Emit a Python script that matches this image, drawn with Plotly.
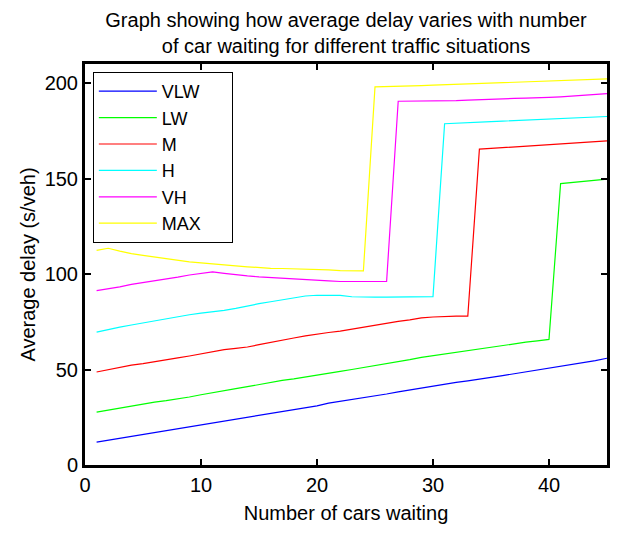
import plotly.graph_objects as go

cars = list(range(1, 46))

vlw = [12.0, 13.0, 14.0, 15.0, 16.0, 16.8, 17.8, 18.8, 19.8, 20.8, 21.7, 22.8, 24.0, 25.1, 26.1,
       26.9, 27.8, 28.8, 29.8, 31.0, 32.4, 33.3, 34.2, 35.2, 36.2, 37.2, 38.3, 39.3, 40.4, 41.5,
       42.5, 43.3, 44.1, 44.9, 45.8, 46.8, 47.8, 48.8, 49.8, 50.8, 51.7, 52.6, 53.5, 54.7, 55.9]
lw = [27.7, 28.8, 29.8, 31.0, 32.0, 32.9, 33.7, 34.5, 35.6, 36.8, 38.0, 39.0, 40.0, 41.0, 42.2,
      43.4, 44.3, 45.1, 46.0, 47.0, 48.0, 49.0, 50.0, 51.0, 52.0, 53.0, 54.0, 55.2, 56.4, 57.3,
      58.2, 59.0, 59.8, 60.8, 61.7, 62.6, 63.5, 64.3, 65.0, 65.8, 147.4, 148.0, 148.6, 149.2, 149.7]
m = [48.7, 50.0, 51.3, 52.3, 53.1, 54.0, 55.0, 56.1, 57.1, 58.3, 59.5, 60.4, 61.1, 61.8, 63.0,
     64.3, 65.5, 66.5, 67.6, 68.6, 69.4, 70.1, 71.2, 72.3, 73.3, 74.3, 75.2, 76.0, 77.0, 77.5,
     77.8, 78.0, 78.0, 165.4, 165.8, 166.2, 166.6, 167.0, 167.4, 167.7, 168.1, 168.5, 168.9, 169.3, 169.7]
h = [69.6, 71.0, 72.2, 73.3, 74.4, 75.6, 76.8, 77.8, 78.7, 79.5, 80.2, 81.0, 82.0, 83.4, 84.5,
     85.5, 86.5, 87.5, 88.5, 88.9, 88.9, 88.8, 88.1, 87.9, 87.9, 87.9, 88.0, 88.1, 88.2, 88.2,
     178.7, 178.9, 179.2, 179.5, 179.8, 180.1, 180.4, 180.7, 181.0, 181.3, 181.6, 181.9, 182.1, 182.3, 182.5]
vh = [91.3, 92.2, 93.3, 94.6, 95.5, 96.3, 97.3, 98.4, 99.5, 100.3, 101.1, 100.4, 99.6, 99.0, 98.5,
      98.1, 97.8, 97.4, 97.0, 96.7, 96.4, 96.1, 96.1, 96.1, 96.1, 96.1, 190.5, 190.5, 190.5, 190.6,
      190.7, 190.8, 191.1, 191.4, 191.6, 191.8, 192.0, 192.1, 192.2, 192.5, 192.8, 193.2, 193.6, 194.0, 194.5]
mx = [112.4, 113.5, 112.0, 110.7, 109.8, 108.9, 108.0, 107.1, 106.4, 105.8, 105.2, 104.8, 104.3, 103.8, 103.3,
      103.0, 102.9, 102.8, 102.6, 102.5, 102.2, 101.8, 101.7, 101.7, 198.0, 198.1, 198.3, 198.5, 198.7, 198.9,
      199.1, 199.3, 199.5, 199.7, 199.9, 200.1, 200.3, 200.5, 200.8, 201.1, 201.3, 201.5, 201.7, 201.9, 202.2]

series_names = ["VLW", "LW", "M", "H", "VH", "MAX"]
series_values = [vlw, lw, m, h, vh, mx]
series_colors = ["#0000FF", "#00FF00", "#FF0000", "#00FFFF", "#FF00FF", "#FFFF00"]

x_ticks = [0, 10, 20, 30, 40]
y_ticks = [0, 50, 100, 150, 200]

FONT = "Arial, Liberation Sans, sans-serif"

fig = go.Figure()
for name, vals, col in zip(series_names, series_values, series_colors):
    fig.add_trace(go.Scatter(x=cars, y=vals, mode="lines", name=name + "\u00a0\u00a0\u00a0\u00a0\u00a0",
                             line=dict(color=col, width=1.2)))

axis_common = dict(showline=True, linecolor="black", linewidth=3, mirror="ticks",
                   ticks="inside", ticklen=6, tickwidth=2, tickcolor="black",
                   showgrid=False, zeroline=False,
                   tickfont=dict(family=FONT, size=20, color="black"))

fig.update_layout(
    width=622, height=533,
    margin=dict(l=85, r=13, t=64, b=59),
    paper_bgcolor="white", plot_bgcolor="white",
    font=dict(family=FONT, color="black"),
    title=dict(text="Graph showing how average delay varies with number<br>of car waiting for different traffic situations",
               x=0.5, xref="paper", xanchor="center",
               yref="container", y=1 - 27 / 533, yanchor="middle",
               font=dict(family=FONT, size=20, color="black")),
    xaxis=dict(range=[0, 45], tickvals=x_ticks,
               title=dict(text="Number of cars waiting", font=dict(family=FONT, size=20), standoff=11),
               **axis_common),
    yaxis=dict(range=[0, 210], tickvals=y_ticks,
               title=dict(text="Average delay (s/veh)", font=dict(family=FONT, size=20), standoff=4),
               **axis_common),
    legend=dict(x=0.015, y=0.98, xanchor="left", yanchor="top",
                bgcolor="white", bordercolor="black", borderwidth=1,
                font=dict(family=FONT, size=18, color="black"),
                itemwidth=58, tracegroupgap=0),
    showlegend=True,
)

fig.write_html("out.html")
